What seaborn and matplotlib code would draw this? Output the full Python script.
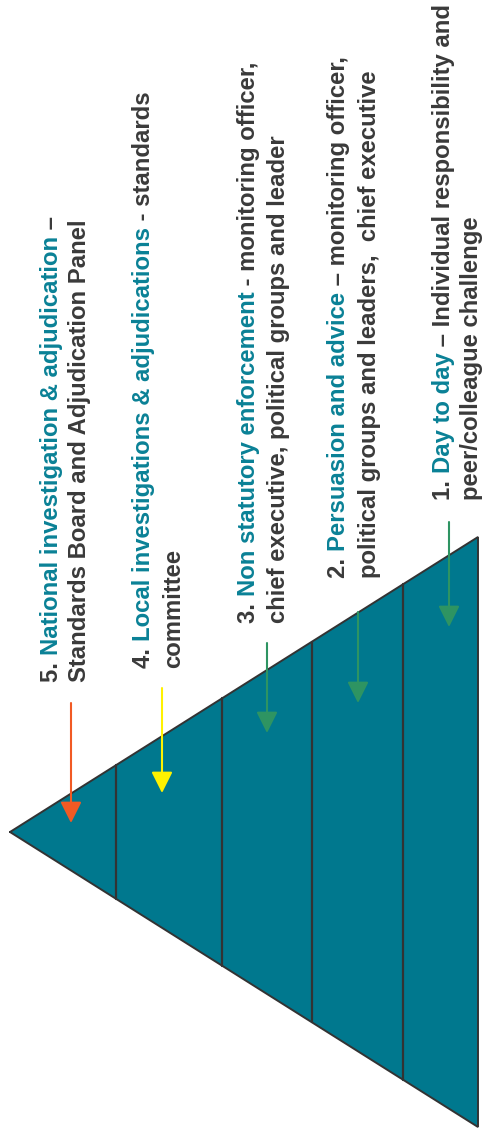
import matplotlib
matplotlib.use("Agg")
import matplotlib.pyplot as plt
import seaborn as sns

# pyramid levels, listed from apex to base
numbers = ["5.", "4.", "3.", "2.", "1."]
band_bounds = [0.0, 0.226, 0.453, 0.645, 0.840, 1.0]
headings = [
    "National investigation & adjudication",
    "Local investigations & adjudications",
    "Non statutory enforcement",
    "Persuasion and advice",
    "Day to day",
]
tails = [
    " \u2013",
    " - standards",
    " - monitoring officer,",
    " \u2013 monitoring officer,",
    " \u2013 Individual responsibility and",
]
second_lines = [
    "Standards Board and Adjudication Panel",
    "committee",
    "chief executive, political groups and leader",
    "political groups and leaders,  chief executive",
    "peer/colleague challenge",
]
arrow_colors = ["#F15A24", "#FFF200", "#2E9462", "#2E9462", "#2E9462"]

# layout (pixels)
W, H = 482, 1138
apex_x, base_x, mid_y, half_base = 10, 478, 832, 295
text_start = [682, 668, 623, 578, 500]
line1_x = [58, 150, 255, 345, 450]
line2_x = [86, 180, 285, 376, 478]
arrow_x = [71, 162, 267, 358, 449]
arrow_top = [703, 688, 643, 612, 522]
arrow_tip = [823, 793, 733, 703, 627]

fill = "#00788E"
edge = "#333333"
teal = "#0A8196"
dark = "#3A3A3A"
fs = 17.2

sns.set_theme(style="white")
plt.rcParams["font.family"] = ["Liberation Sans", "DejaVu Sans"]

fig = plt.figure(figsize=(W / 100, H / 100), dpi=100)
ax = fig.add_axes([0, 0, 1, 1])
ax.set_xlim(0, W)
ax.set_ylim(H, 0)
ax.axis("off")

span = base_x - apex_x

# bands of the pyramid
for i in range(len(numbers)):
    d0, d1 = band_bounds[i], band_bounds[i + 1]
    x0, x1 = apex_x + d0 * span, apex_x + d1 * span
    h0, h1 = d0 * half_base, d1 * half_base
    ax.fill([x0, x1, x1, x0], [mid_y - h0, mid_y - h1, mid_y + h1, mid_y + h0],
            color=fill, lw=0, zorder=1)

# dividers
for d in band_bounds[1:-1]:
    x = apex_x + d * span
    ax.plot([x, x], [mid_y - d * half_base, mid_y + d * half_base],
            color=edge, lw=1.6, zorder=2)

# outline
ax.plot([apex_x, base_x, base_x, apex_x],
        [mid_y, mid_y - half_base, mid_y + half_base, mid_y],
        color=edge, lw=1.4, zorder=3, solid_joinstyle="miter")

# arrows
for x, y0, y1, c in zip(arrow_x, arrow_top, arrow_tip, arrow_colors):
    ax.annotate("", xy=(x, y1), xytext=(x, y0),
                arrowprops=dict(arrowstyle="-|>,head_length=1.08,head_width=0.54",
                                color=c, lw=1.5, shrinkA=0, shrinkB=0),
                zorder=4)

renderer = fig.canvas.get_renderer()


def advance(s):
    t = ax.text(0, 0, s + "|", fontsize=fs, fontweight="bold")
    w1 = t.get_window_extent(renderer).width
    t.set_text("|")
    w2 = t.get_window_extent(renderer).width
    t.remove()
    return w1 - w2


def vtext(x, y, s, color):
    ax.text(x, y, s, rotation=90, rotation_mode="anchor", ha="left",
            va="baseline", fontsize=fs, fontweight="bold", color=color, zorder=5)


for i in range(len(numbers)):
    pieces = [(numbers[i] + " ", dark), (headings[i], teal), (tails[i], dark)]
    prefix = ""
    for s, c in pieces:
        off = advance(prefix) if prefix else 0
        vtext(line1_x[i], text_start[i] - off, s, c)
        prefix += s
    vtext(line2_x[i], text_start[i], second_lines[i], dark)

fig.savefig("out.png", dpi=100)
